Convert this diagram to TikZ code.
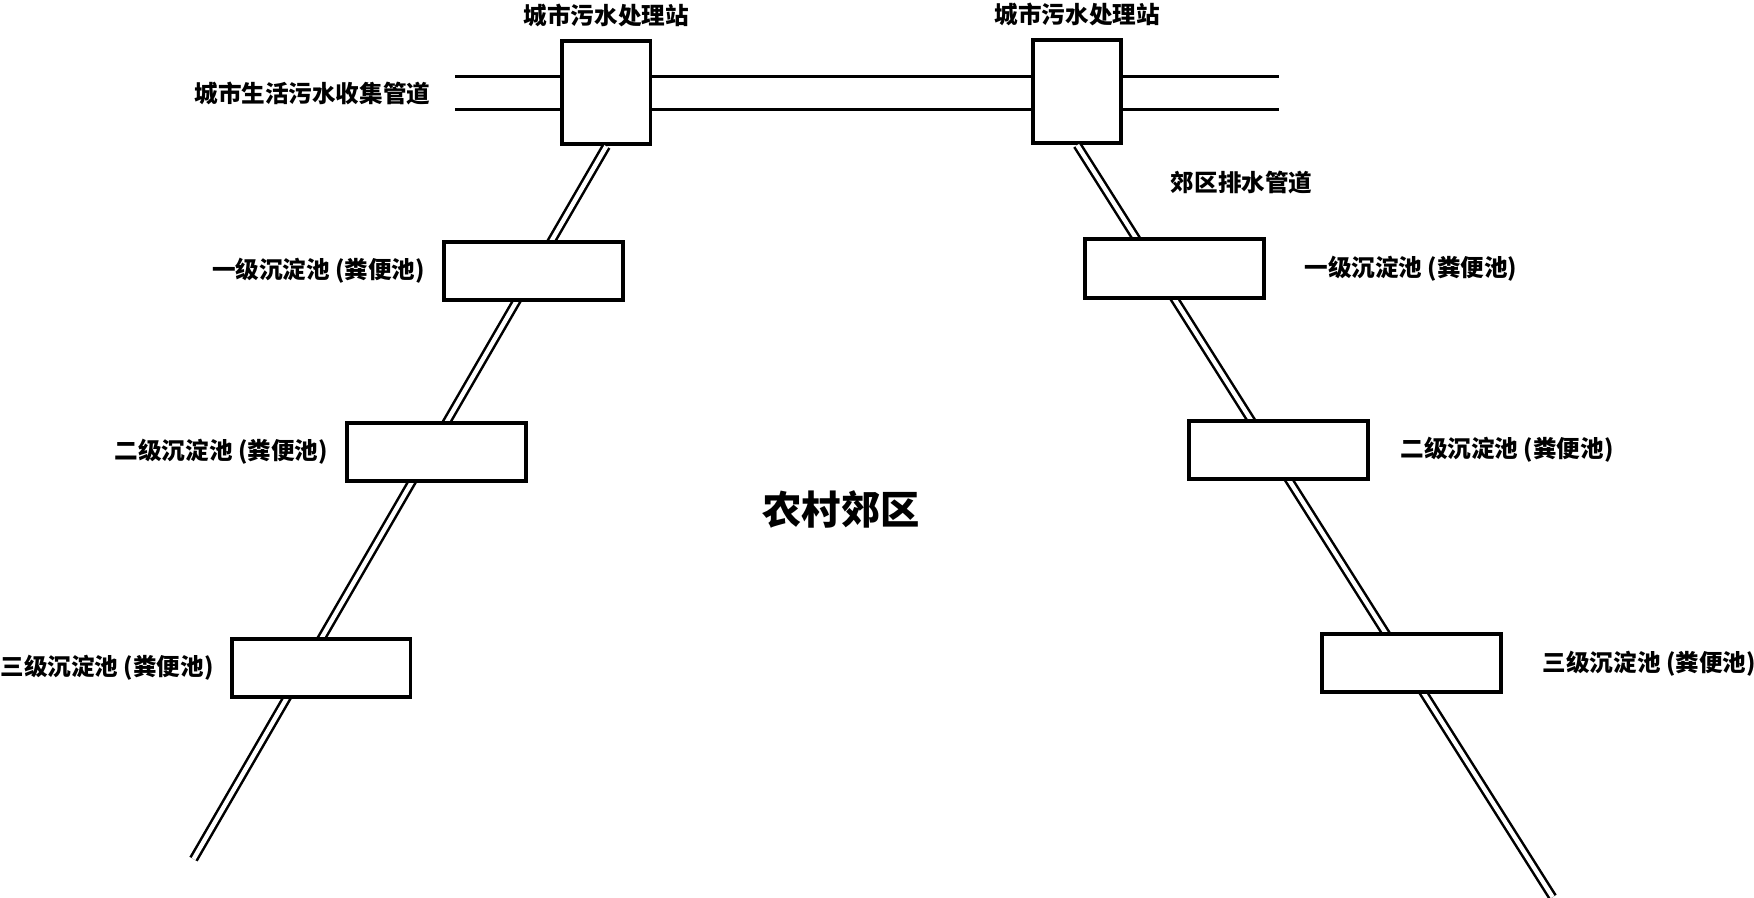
\documentclass[tikz,border=0pt]{standalone}
\usepackage{fontspec}
\newfontfamily\cjk{Noto Sans CJK SC}
\usetikzlibrary{positioning}

\begin{document}
\begin{tikzpicture}[x=0.02cm, y=-0.02cm,
  station/.style={draw, rectangle, line width=2pt, fill=white, minimum width=1.58cm, minimum height=1.84cm, inner sep=0},
  pool/.style={draw, rectangle, line width=2pt, fill=white, minimum width=3.2cm, minimum height=1.04cm, inner sep=0},
  pipe/.style={line width=1.5pt},
  drain/.style={double, line width=1.3pt, double distance=2.2pt},
  lbl/.style={font=\cjk\bfseries\fontsize{12}{14}\selectfont, inner sep=0}]
\useasboundingbox (0,0) rectangle (1568,802);

\node[station] (stL) at (542,83) {};
\node[station] (stR) at (963,82) {};
\node[lbl, above=0.22cm of stL] (tStL) {城市污水处理站};
\node[lbl, above=0.22cm of stR] (tStR) {城市污水处理站};

\coordinate (inA) at (407,68);
\coordinate (inB) at (407,98);
\coordinate (outA) at (1143,68);
\coordinate (outB) at (1143,98);
\draw[pipe] (inA) -- (inA -| stL.west);
\draw[pipe] (inB) -- (inB -| stL.west);
\draw[pipe] (inA -| stL.east) -- (inA -| stR.west);
\draw[pipe] (inB -| stL.east) -- (inB -| stR.west);
\draw[pipe] (outA -| stR.east) -- (outA);
\draw[pipe] (outB -| stR.east) -- (outB);
\node[lbl, anchor=east] (tIn) at (385,84) {城市生活污水收集管道};
\node[lbl] (tOut) at (1110,163) {郊区排水管道};

\coordinate (endL) at (173,768);
\coordinate (endR) at (1388,802);
\draw[drain] (stL.south) -- (endL);
\draw[drain] (stR.south) -- (endR);

\node[pool] (p1L) at (477,242) {};
\node[pool] (p2L) at (390,404) {};
\node[pool] (p3L) at (287,597) {};
\node[pool] (p1R) at (1050,240) {};
\node[pool] (p2R) at (1143,402) {};
\node[pool] (p3R) at (1262,593) {};

\node[lbl, left=0.3cm of p1L] (t1L) {一级沉淀池 (粪便池)};
\node[lbl, left=0.3cm of p2L] (t2L) {二级沉淀池 (粪便池)};
\node[lbl, left=0.28cm of p3L] (t3L) {三级沉淀池 (粪便池)};
\node[lbl, right=0.68cm of p1R] (t1R) {一级沉淀池 (粪便池)};
\node[lbl, right=0.54cm of p2R] (t2R) {二级沉淀池 (粪便池)};
\node[lbl, right=0.7cm of p3R] (t3R) {三级沉淀池 (粪便池)};

\node[font=\cjk\bfseries\fontsize{20}{24}\selectfont, inner sep=0] (area) at (752,455) {农村郊区};
\end{tikzpicture}
\end{document}
